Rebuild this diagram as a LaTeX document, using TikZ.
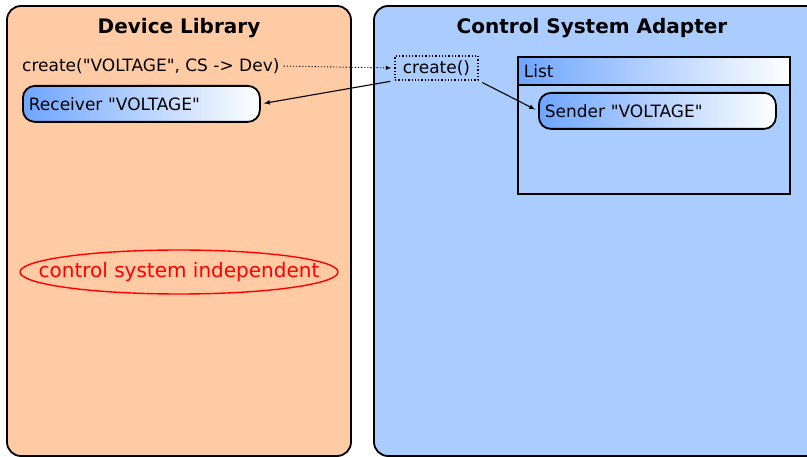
\documentclass[tikz,border=0pt]{standalone}
\usepackage{fontspec}
\setmainfont{DejaVu Sans}[Ligatures=TeXOff]

\definecolor{peach}{RGB}{255,203,164}
\definecolor{skyblue}{RGB}{170,204,255}
\definecolor{gradblue}{RGB}{110,165,255}

\begin{document}
\begin{tikzpicture}[x=1pt, y=-1pt, >=latex,
    panel/.style={draw, line width=1.8pt, rounded corners=14pt},
    paneltitle/.style={font=\fontsize{20}{23}\selectfont\bfseries},
    txt/.style={font=\fontsize{17}{20}\selectfont, inner sep=0pt},
    objbox/.style={draw, line width=1.8pt, rounded corners=12pt, left color=gradblue, right color=white,
        font=\fontsize{17}{20}\selectfont, text width=225pt, align=left, inner xsep=6pt,
        minimum height=36pt, anchor=north west},
    conn/.style={->, line width=1.1pt, shorten <=4pt, shorten >=3pt}]

    \useasboundingbox (0,0) rectangle (807,457);

    % Panels
    \draw[panel, fill=peach] (7,6) rectangle (351,456);
    \draw[panel, fill=skyblue] (374,6) rectangle (830,456);
    \node[paneltitle] (devlib) at (179,28) {Device Library};
    \node[paneltitle] (csadapter) at (592,28) {Control System Adapter};

    % Device library side
    \node[txt, anchor=west] (call) at (22,66) {create("VOLTAGE", CS -> Dev)};
    \node[objbox] (receiver) at (22,85) {Receiver "VOLTAGE"};
    \node[txt, text=red, font=\fontsize{20}{23}\selectfont] (indep) at (179,272) {control system independent};
    \draw[red, line width=1.4pt] (indep.center) ellipse [x radius=159, y radius=22];

    % Adapter side
    \node[draw, dotted, line width=1.3pt, font=\fontsize{17}{20}\selectfont,
        minimum width=83pt, minimum height=24pt, inner sep=0pt] (create) at (436.5,68) {create()};
    \node[draw, line width=1.8pt, minimum width=272pt, minimum height=137pt, anchor=north west] (list) at (517,56) {};
    \node[draw, line width=1.8pt, left color=gradblue, right color=white, font=\fontsize{17}{20}\selectfont,
        text width=260pt, align=left, inner xsep=6pt, minimum height=28pt, anchor=north west] (listhead) at (list.north west) {List};
    \node[objbox] (sender) at (538,92) {Sender "VOLTAGE"};

    % Calls
    \draw[conn, dotted, line width=0.9pt] (call.east) -- (create.west);
    \draw[conn] (create.south west) -- (receiver.east);
    \draw[conn] (create.south east) -- (sender.west);
\end{tikzpicture}
\end{document}
